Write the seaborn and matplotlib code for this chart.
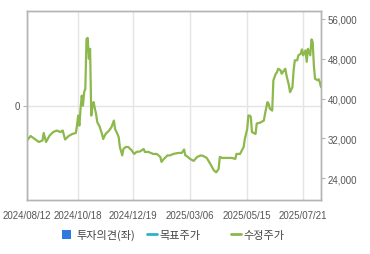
import matplotlib
matplotlib.use("Agg")
import matplotlib.pyplot as plt
from matplotlib.patches import Rectangle
from matplotlib.lines import Line2D
import seaborn as sns
import pandas as pd

# ---- data (trading-day index from 2024/08/12, adjusted close in KRW) ----
trade_day = [0, 3, 7, 10, 13, 14, 16, 19, 22, 25, 28, 30, 32, 35, 38, 41, 42, 43, 44, 45,
             46, 47, 48, 49, 50, 51, 52, 53, 54, 55, 56, 57, 58, 59, 61, 63, 64, 66, 69, 71,
             73, 74, 76, 77, 78, 80, 81, 83, 85, 88, 90, 92, 95, 98, 99, 102, 106, 109, 112, 113,
             115, 118, 120, 123, 127, 130, 132, 133, 134, 137, 140, 143, 146, 148, 151, 154, 157, 159, 161, 162,
             164, 168, 172, 175, 176, 179, 182, 183, 185, 186, 187, 188, 189, 192, 193, 196, 199, 200, 202, 203,
             204, 206, 207, 209, 210, 211, 213, 214, 216, 217, 218, 220, 221, 223, 224, 225, 227, 228, 230, 231,
             232, 234, 235, 236, 238, 239, 240, 241, 242, 244, 245, 246, 247]
price = [31600, 32500, 31800, 31300, 31600, 33100, 31300, 32600, 33300, 33600, 33300, 33600, 31800, 32500, 32900, 33100, 34600, 36600, 34600, 38000,
         40600, 38600, 41300, 42000, 52000, 52200, 48000, 50000, 36600, 38600, 39300, 38000, 37000, 35300, 34400, 32900, 31900, 32900, 33600, 34300,
         35600, 33900, 32900, 32300, 30300, 28600, 29900, 30300, 30300, 29600, 28900, 29300, 29400, 29900, 29300, 29300, 28900, 28900, 28300, 27300,
         27900, 28600, 28600, 28900, 29100, 29100, 29800, 28600, 28500, 27900, 27500, 28300, 28600, 28500, 28100, 26900, 25600, 25200, 25900, 28300,
         28100, 28100, 28100, 27900, 28900, 28900, 30300, 31900, 33900, 36600, 36600, 36400, 33300, 32900, 35000, 35200, 35600, 37000, 39300, 39000,
         38000, 37600, 43700, 45000, 45300, 46000, 45700, 45000, 45700, 46000, 44700, 42700, 41300, 42300, 45700, 47700, 47700, 48700, 49000, 49900,
         48700, 49700, 47400, 50000, 48700, 51900, 51400, 46700, 44000, 43700, 43900, 43300, 42300]

tick_days = [0, 43, 89, 137, 185, 232]
tick_labels = ["2024/08/12", "2024/10/18", "2024/12/19", "2025/03/06", "2025/05/15", "2025/07/21"]
price_ticks = [24000, 32000, 40000, 48000, 56000]
legend_labels = ["투자의견(좌)", "목표주가", "수정주가"]

df = pd.DataFrame({"day": trade_day, "price": price})

sns.set_style("white")
plt.rcParams["font.family"] = ["Liberation Sans", "Noto Sans CJK KR", "DejaVu Sans"]

GREEN = "#8cb84c"
GRID = "#e4e4e4"
SPINE = "#b4b4b4"
TXT = "#555555"

fig = plt.figure(figsize=(3.70, 2.55), dpi=100)
ax = fig.add_axes([27 / 370, 1 - 201 / 255, 294 / 370, 189 / 255])
ax2 = ax.twinx()

# left axis (investment opinion)
ax.set_ylim(-1, 1)
ax.set_yticks([0])
ax.set_yticklabels(["0"])
ax.set_xlim(0, 247)
ax.set_xticks(tick_days)
ax.set_xticklabels(tick_labels)
ax.grid(True, color=GRID, linewidth=1.0)
ax.set_axisbelow(True)

# right axis (adjusted price)
sns.lineplot(data=df, x="day", y="price", ax=ax2, color=GREEN, linewidth=1.6)
ax2.set_ylim(19650, 57600)
ax2.set_yticks(price_ticks)
ax2.set_yticklabels([f"{v:,}" for v in price_ticks])
ax2.set_xlim(0, 247)
ax2.set_xlabel("")
ax2.set_ylabel("")
ax.set_xlabel("")

for a in (ax, ax2):
    for s in a.spines.values():
        s.set_color(SPINE)
        s.set_linewidth(1.0)
    a.tick_params(axis="both", which="both", length=3, width=0.8, color=SPINE,
                  labelsize=7, labelcolor=TXT, pad=2)
ax.tick_params(axis="x", pad=4)
ax2.tick_params(axis="y", left=False, labelleft=False, right=True, labelright=True)

# legend drawn in figure coordinates
W, H = 370.0, 255.0
fig.patches.append(Rectangle((62 / W, 1 - 240 / H), 9 / W, 9 / H, transform=fig.transFigure,
                             facecolor="#2e7be0", edgecolor="none"))
fig.lines.append(Line2D([147 / W, 157 / W], [1 - 235 / H] * 2, transform=fig.transFigure,
                        color="#2bb3c6", linewidth=2))
fig.lines.append(Line2D([231 / W, 241 / W], [1 - 235 / H] * 2, transform=fig.transFigure,
                        color=GREEN, linewidth=2))
for xpx, lab in zip([76, 159, 243], legend_labels):
    fig.text(xpx / W, 1 - 235.5 / H, lab, ha="left", va="center", fontsize=8, color="#444444",
             family=["Noto Sans CJK KR", "DejaVu Sans"])

fig.savefig("out.png", dpi=100, facecolor="white")
